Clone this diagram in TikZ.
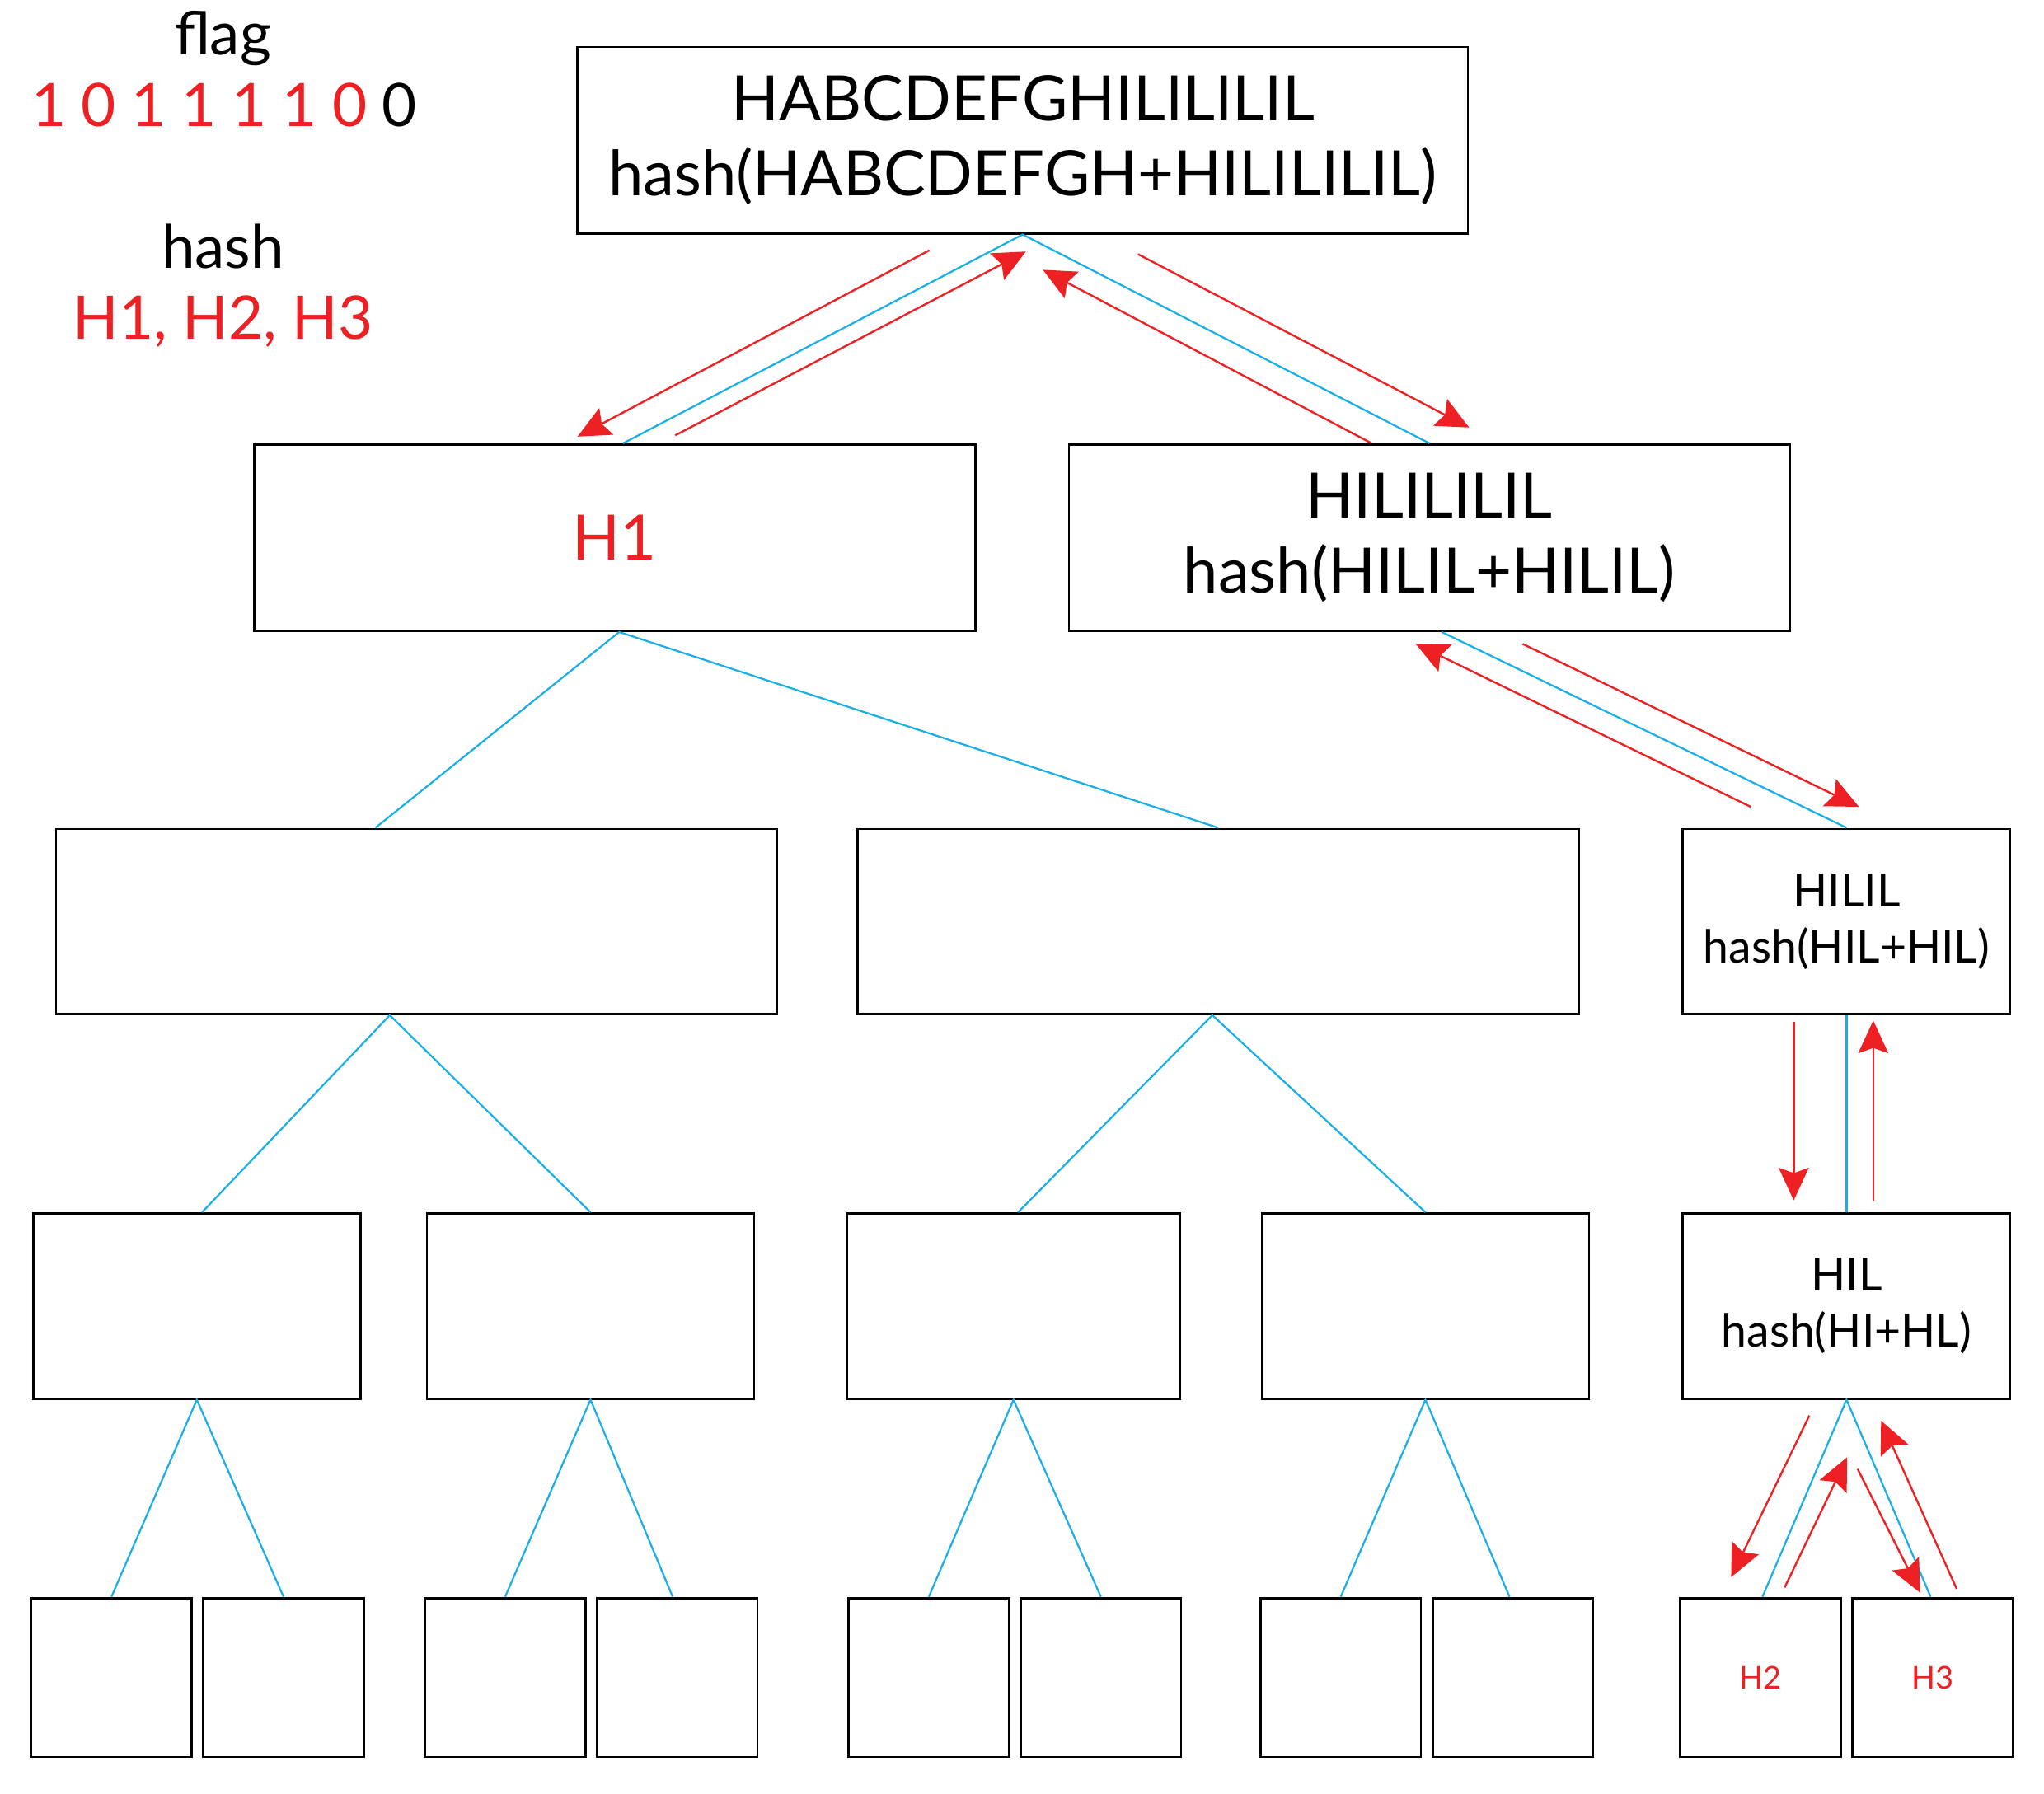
\documentclass[tikz,border=0pt]{standalone}
\usepackage{fontspec}
\setmainfont{Lato}
\usetikzlibrary{arrows.meta}
\definecolor{myred}{HTML}{ED2024}
\definecolor{myblue}{HTML}{1AAEE6}
\begin{document}
\begin{tikzpicture}[x=0.5pt,y=-0.5pt,
  box/.style={draw=black,line width=0.9pt,inner sep=0pt,align=center},
  big/.style={font=\fontsize{24}{28.5}\selectfont},
  mid/.style={font=\fontsize{17.5}{21.5}\selectfont},
  small/.style={font=\fontsize{12}{14}\selectfont},
  wide/.style={minimum width=276.5pt,minimum height=71.5pt},
  narrow/.style={minimum width=125.5pt,minimum height=71pt},
  leaf/.style={box,minimum width=61.5pt,minimum height=61pt},
  link/.style={draw=myblue,line width=0.7pt},
  flow/.style={draw=myred,line width=0.75pt,-{Stealth[length=12.5pt,width=11.5pt,inset=2pt]}},
  lbl/.style={font=\fontsize{23}{28}\selectfont,anchor=base,inner sep=0pt}
]
\useasboundingbox (0,0) rectangle (1568,1375.8);
% legend
\node[lbl] (flag) at (171,42) {flag};
\node[lbl] (bits) at (172,97) {{\color{myred}1 0 1 1 1 1 0} 0};
\node[lbl] (hashl) at (171,206) {hash};
\node[lbl,text=myred] (hl) at (171,260) {H1, H2, H3};
% level 0
\node[box,big,minimum width=341.5pt,minimum height=71.5pt] (root) at (784.5,107.5) {HABCDEFGHILILILIL\\hash(HABCDEFGH+HILILILIL)};
% level 1
\node[box,big,wide,text=myred] (h1) at (471.5,412.5) {H1};
\node[box,big,wide] (r1) at (1096.5,412.5) {HILILILIL\\hash(HILIL+HILIL)};
% level 2
\node[box,wide,minimum height=71pt] (a2) at (319.5,707) {};
\node[box,wide,minimum height=71pt] (b2) at (934.5,707) {};
\node[box,mid,narrow] (c2) at (1416.5,707) {HILIL\\hash(HIL+HIL)};
% level 3
\node[box,narrow] (a3) at (151,1002) {};
\node[box,narrow] (b3) at (453,1002) {};
\node[box,narrow,minimum width=127.5pt] (c3) at (777.5,1002) {};
\node[box,narrow] (d3) at (1093.5,1002) {};
\node[box,mid,narrow] (e3) at (1416.5,1002) {HIL\\hash(HI+HL)};
% level 4
\node[leaf] (l1) at (85.5,1287) {};
\node[leaf] (l2) at (217.5,1287) {};
\node[leaf] (l3) at (387.5,1287) {};
\node[leaf] (l4) at (519.5,1287) {};
\node[leaf] (l5) at (712.5,1287) {};
\node[leaf] (l6) at (844.5,1287) {};
\node[leaf] (l7) at (1028.5,1287) {};
\node[leaf] (l8) at (1160.5,1287) {};
\node[leaf,small,text=myred] (l9) at (1350.5,1287) {H2};
\node[leaf,small,text=myred] (l10) at (1482.5,1287) {H3};
% tree links
\draw[link] ([xshift=3.25pt]h1.north) -- (root.south) -- (r1.north);
\draw[link] ([xshift=-15.75pt]a2.north) -- ([xshift=1.75pt]h1.south) -- (b2.north);
\draw[link] ([xshift=4.75pt]r1.south) -- (c2.north);
\draw[link] ([xshift=2pt]a3.north) -- ([xshift=-10.25pt]a2.south) -- (b3.north);
\draw[link] ([xshift=1.75pt]c3.north) -- ([xshift=-2.25pt]b2.south) -- (d3.north);
\draw[link] (c2.south) -- (e3.north);
\draw[link] (l1.north) -- (a3.south) -- (l2.north);
\draw[link] (l3.north) -- (b3.south) -- ([xshift=-1.75pt]l4.north);
\draw[link] (l5.north) -- (c3.south) -- (l6.north);
\draw[link] (l7.north) -- (d3.south) -- ([xshift=-1.25pt]l8.north);
\draw[link] ([xshift=0.75pt]l9.north) -- (e3.south) -- ([xshift=-0.75pt]l10.north);
% red flow arrows
\coordinate (p1s) at (713,192);  \coordinate (p1e) at (443,335);
\coordinate (p2s) at (518,334);  \coordinate (p2e) at (787,193);
\coordinate (p3s) at (1052,340); \coordinate (p3e) at (800,207);
\coordinate (p4s) at (873,195);  \coordinate (p4e) at (1127,328);
\coordinate (p5s) at (1343,619); \coordinate (p5e) at (1086,494);
\coordinate (p6s) at (1168,494); \coordinate (p6e) at (1426,619);
\coordinate (p7s) at (1376,784); \coordinate (p7e) at (1376,921);
\coordinate (p8s) at (1437,921); \coordinate (p8e) at (1437,783);
\coordinate (p9s) at (1388,1086); \coordinate (p9e) at (1328,1210);
\coordinate (p10s) at (1369,1218); \coordinate (p10e) at (1417,1118);
\coordinate (p11s) at (1425,1127); \coordinate (p11e) at (1473,1222);
\coordinate (p12s) at (1501,1219); \coordinate (p12e) at (1443,1090);
\foreach \i in {1,...,12} {\draw[flow] (p\i s) -- (p\i e);}
\end{tikzpicture}
\end{document}
